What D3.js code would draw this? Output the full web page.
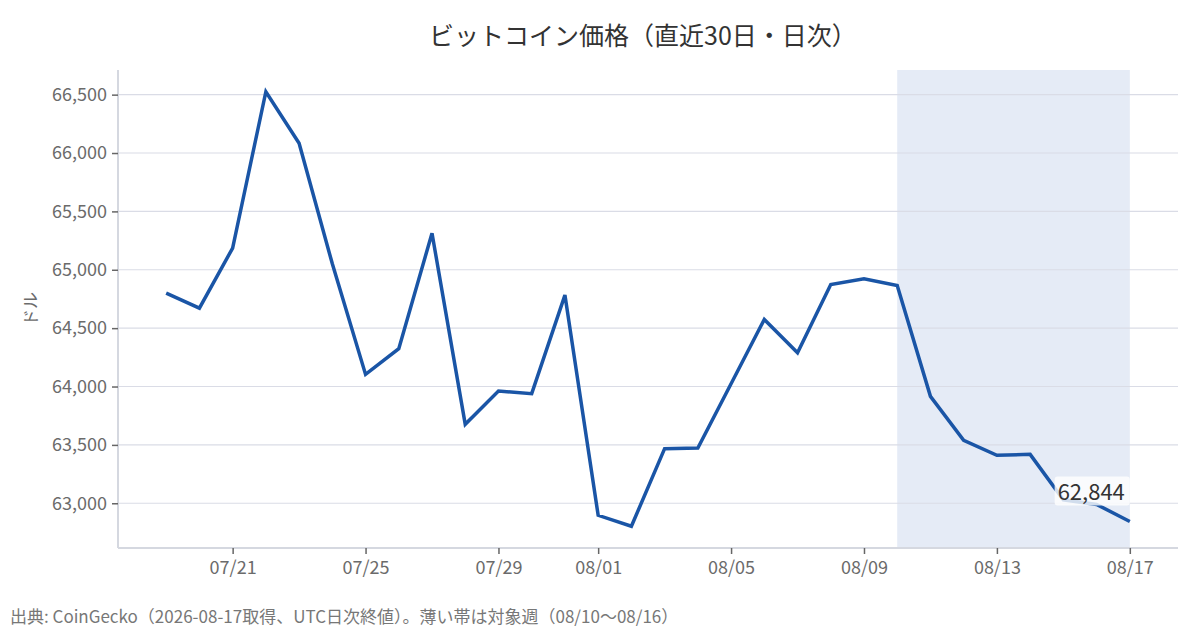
<!DOCTYPE html>
<html>
<head>
<meta charset="utf-8">
<script src="https://cdn.jsdelivr.net/npm/d3@7/dist/d3.min.js"></script>
<style>
  html, body { margin: 0; padding: 0; background: #fff; }
  svg { display: block; font-family: "Noto Sans CJK JP", "Noto Sans", sans-serif; }
</style>
</head>
<body>
<svg id="chart" width="1200" height="630"></svg>
<script>
const dates = ["2026-07-19","2026-07-20","2026-07-21","2026-07-22","2026-07-23","2026-07-24","2026-07-25","2026-07-26","2026-07-27","2026-07-28","2026-07-29","2026-07-30","2026-07-31","2026-08-01","2026-08-02","2026-08-03","2026-08-04","2026-08-05","2026-08-06","2026-08-07","2026-08-08","2026-08-09","2026-08-10","2026-08-11","2026-08-12","2026-08-13","2026-08-14","2026-08-15","2026-08-16","2026-08-17"];
const prices = [64800,64671,65186,66525,66083,65051,64104,64324,65313,63676,63961,63939,64783,62897,62803,63468,63473,64024,64575,64290,64874,64923,64866,63916,63539,63411,63419,63030,62990,62844];
const yTicks = [63000,63500,64000,64500,65000,65500,66000,66500];
const highlightWeek = ["2026-08-10","2026-08-17"];
const titleText = "ビットコイン価格（直近30日・日次）";
const yLabel = "ドル";
const footerText = "出典: CoinGecko（2026-08-17取得、UTC日次終値）。薄い帯は対象週（08/10〜08/16）";

const parse = d3.utcParse("%Y-%m-%d");
const data = dates.map((d, i) => ({ date: parse(d), value: prices[i] }));

const svg = d3.select("#chart");
const margin = { left: 118, right: 22, top: 70, bottom: 82 };
const W = 1200, H = 630;
const FONT = '"Noto Sans CJK JP", "Noto Sans", sans-serif';

const x0 = data[0].date, x1 = data[data.length - 1].date;
const xPad = (x1 - x0) * 0.05;
const x = d3.scaleUtc()
  .domain([new Date(+x0 - xPad), new Date(+x1 + xPad)])
  .range([margin.left, W - margin.right]);

const vmin = d3.min(prices), vmax = d3.max(prices);
const yPad = (vmax - vmin) * 0.05;
const y = d3.scaleLinear()
  .domain([vmin - yPad, vmax + yPad])
  .range([H - margin.bottom, margin.top]);

// highlight band
svg.append("rect")
  .attr("x", x(parse(highlightWeek[0])))
  .attr("y", margin.top)
  .attr("width", x(parse(highlightWeek[1])) - x(parse(highlightWeek[0])))
  .attr("height", (H - margin.bottom) - margin.top)
  .attr("fill", "#e5ebf6");

// gridlines
svg.append("g")
  .selectAll("line")
  .data(yTicks)
  .join("line")
  .attr("x1", margin.left)
  .attr("x2", W - margin.right)
  .attr("y1", d => y(d))
  .attr("y2", d => y(d))
  .attr("stroke", "#dadce6")
  .attr("stroke-width", 1.2);

// axes
const fmt = d3.format(",");
const yAxis = svg.append("g")
  .attr("transform", `translate(${margin.left},0)`)
  .call(d3.axisLeft(y).tickValues(yTicks).tickFormat(fmt).tickSize(6).tickPadding(5));
const xTickVals = d3.utcDay.every(4).range(x.domain()[0], x.domain()[1]);
const xAxis = svg.append("g")
  .attr("transform", `translate(0,${H - margin.bottom})`)
  .call(d3.axisBottom(x).tickValues(xTickVals).tickFormat(d3.utcFormat("%m/%d")).tickSize(6).tickPadding(7));

[yAxis, xAxis].forEach(g => {
  g.select(".domain").attr("stroke", "#d5d8e0").attr("stroke-width", 2);
  g.selectAll(".tick line").attr("stroke", "#666").attr("stroke-width", 1.5);
  g.selectAll(".tick text")
    .attr("fill", "#6b6b6b")
    .style("font-size", "18px")
    .style("font-family", FONT);
});
yAxis.select(".domain").attr("d", `M0,${margin.top}V${H - margin.bottom}`);
xAxis.select(".domain").attr("d", `M${margin.left},0H${W - margin.right}`);

// line
const line = d3.line().x(d => x(d.date)).y(d => y(d.value));
svg.append("path")
  .datum(data)
  .attr("d", line)
  .attr("fill", "none")
  .attr("stroke", "#1a55a6")
  .attr("stroke-width", 3.5)
  .attr("stroke-linejoin", "miter");

// last value label
const last = data[data.length - 1];
const lx = x(last.date) - 5, ly = y(last.value) - 21;
const lbl = svg.append("g");
const txt = lbl.append("text")
  .attr("x", lx)
  .attr("y", ly)
  .attr("text-anchor", "end")
  .attr("fill", "#333")
  .style("font-size", "22px")
  .text(fmt(last.value));
const bb = txt.node().getBBox();
lbl.insert("rect", "text")
  .attr("x", bb.x - 3)
  .attr("y", bb.y + 2)
  .attr("width", bb.width + 8)
  .attr("height", bb.height - 3)
  .attr("rx", 3)
  .attr("fill", "#fff")
  .attr("fill-opacity", 0.8);

// title
svg.append("text")
  .attr("x", 643)
  .attr("y", 45)
  .attr("text-anchor", "middle")
  .attr("fill", "#333")
  .style("font-size", "25px")
  .text(titleText);

// y label
svg.append("text")
  .attr("transform", `translate(37,${(margin.top + H - margin.bottom) / 2}) rotate(-90)`)
  .attr("text-anchor", "middle")
  .attr("fill", "#6b6b6b")
  .style("font-size", "17px")
  .text(yLabel);

// footer
svg.append("text")
  .attr("x", 10)
  .attr("y", 623)
  .attr("fill", "#777")
  .style("font-size", "17px")
  .text(footerText);
</script>
</body>
</html>
